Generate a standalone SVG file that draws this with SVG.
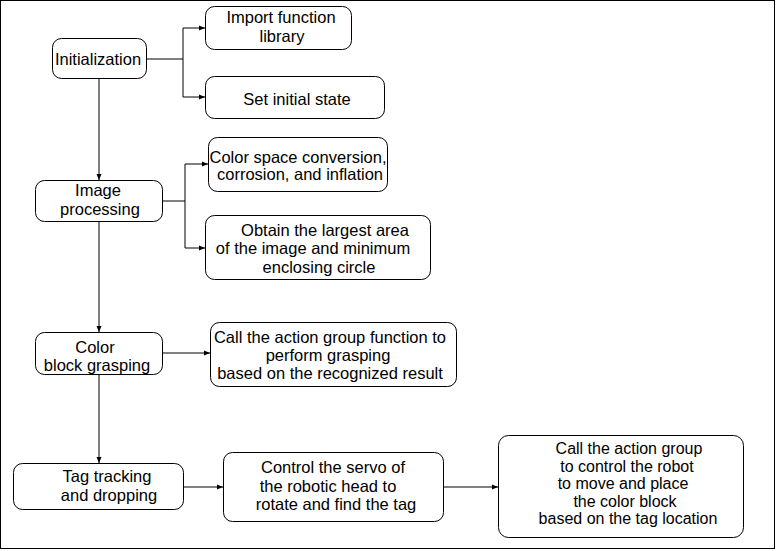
<svg xmlns="http://www.w3.org/2000/svg" width="776" height="551" viewBox="0 0 776 551">
<style>
.box{fill:#fff;stroke:#000;stroke-width:1;}
.t{font-family:"Liberation Sans",Arial,sans-serif;font-size:16.5px;fill:#000;text-anchor:middle;}
.s{font-size:16px;}
.c{fill:none;stroke:#000;stroke-width:1;}
</style>
<defs>
<marker id="ah" markerWidth="6" markerHeight="6" refX="6" refY="3" orient="auto" markerUnits="userSpaceOnUse">
<path d="M0,0.5 L6,3 L0,5.5 Z" fill="#000"/>
</marker>
</defs>
<rect x="0" y="0" width="776" height="551" fill="#fff"/>
<rect x="0.5" y="0.5" width="774" height="548" fill="none" stroke="#000" stroke-width="1"/>
<g id="connectors">
<path class="c" d="M146,59 H183 V28 H205" marker-end="url(#ah)"/>
<path class="c" d="M183,59 V97 H205" marker-end="url(#ah)"/>
<path class="c" d="M99,78 V180" marker-end="url(#ah)"/>
<path class="c" d="M162,201 H185 V164 H208" marker-end="url(#ah)"/>
<path class="c" d="M185,201 V248 H205" marker-end="url(#ah)"/>
<path class="c" d="M99,221 V332" marker-end="url(#ah)"/>
<path class="c" d="M162,353 H210" marker-end="url(#ah)"/>
<path class="c" d="M99,374 V463" marker-end="url(#ah)"/>
<path class="c" d="M183,487 H223" marker-end="url(#ah)"/>
<path class="c" d="M443,487 H498" marker-end="url(#ah)"/>
</g>
<g id="init">
<rect class="box" x="52.5" y="38.5" width="94" height="40" rx="9"/>
<text class="t" x="98" y="65">Initialization</text>
</g>
<g id="import">
<rect class="box" x="205.5" y="6.5" width="146" height="43" rx="9"/>
<text class="t" x="281" y="23">Import function</text>
<text class="t" x="282" y="42">library</text>
</g>
<g id="setstate">
<rect class="box" x="205.5" y="76.5" width="179" height="42" rx="9"/>
<text class="t" x="297" y="105">Set initial state</text>
</g>
<g id="imgproc">
<rect class="box" x="35.5" y="180.5" width="127" height="41" rx="9"/>
<text class="t" x="98" y="196">Image</text>
<text class="t" x="100" y="215">processing</text>
</g>
<g id="colorspace">
<rect class="box" x="208.5" y="137.5" width="179" height="54" rx="9"/>
<text class="t" x="298" y="163">Color space conversion,</text>
<text class="t" x="300" y="180">corrosion, and inflation</text>
</g>
<g id="largest">
<rect class="box" x="205.5" y="215.5" width="225" height="64" rx="9"/>
<text class="t" x="325" y="236">Obtain the largest area</text>
<text class="t" x="313" y="254">of the image and minimum</text>
<text class="t" x="319" y="273">enclosing circle</text>
</g>
<g id="grasp">
<rect class="box" x="35.5" y="332.5" width="127" height="42" rx="9"/>
<text class="t" x="95" y="353">Color</text>
<text class="t" x="97" y="371">block grasping</text>
</g>
<g id="callgrasp">
<rect class="box" x="210.5" y="322.5" width="246" height="64" rx="9"/>
<text class="t" x="330" y="343">Call the action group function to</text>
<text class="t" x="328" y="361">perform grasping</text>
<text class="t" x="330" y="379">based on the recognized result</text>
</g>
<g id="tag">
<rect class="box" x="13.5" y="463.5" width="170" height="46" rx="9"/>
<text class="t" x="107" y="482">Tag tracking</text>
<text class="t" x="109" y="501">and dropping</text>
</g>
<g id="servo">
<rect class="box" x="223.5" y="452.5" width="220" height="69" rx="9"/>
<text class="t" x="333" y="473">Control the servo of</text>
<text class="t" x="328" y="492">the robotic head to</text>
<text class="t" x="336" y="510">rotate and find the tag</text>
</g>
<g id="place">
<rect class="box" x="498.5" y="435.5" width="245" height="102" rx="10"/>
<text class="t s" x="629" y="454">Call the action group</text>
<text class="t s" x="627" y="471.5">to control the robot</text>
<text class="t s" x="623" y="489">to move and place</text>
<text class="t s" x="625" y="506.5">the color block</text>
<text class="t s" x="628" y="524">based on the tag location</text>
</g>
</svg>
